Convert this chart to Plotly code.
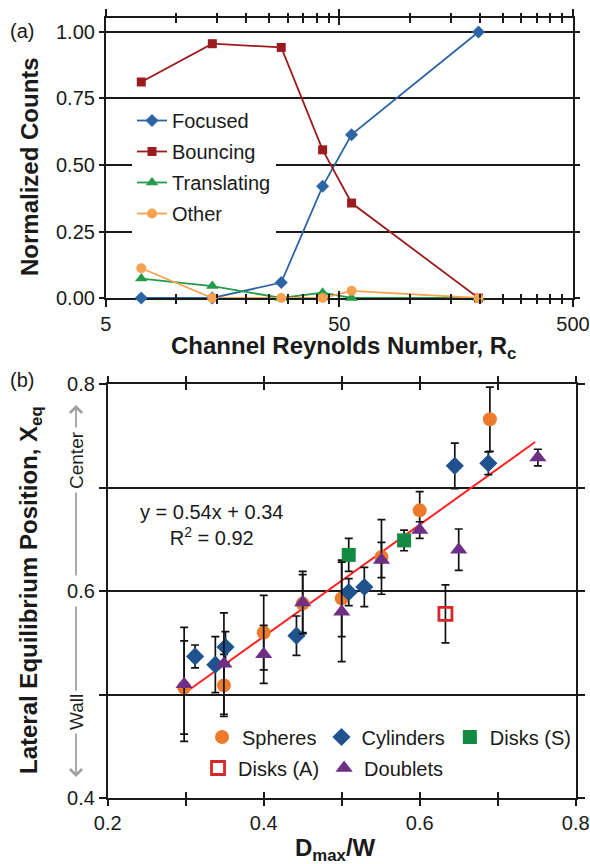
import math
import plotly.graph_objects as go

W, H = 590, 864
FONT = "Liberation Sans, Arial, sans-serif"
INK = "#1a1a1a"

# ---------------- panel (a) data ----------------
rc = [7.1, 14.3, 28.2, 42.4, 56.4, 197]
focused = [0.0, 0.0, 0.058, 0.42, 0.614, 1.0]
bouncing = [0.812, 0.956, 0.942, 0.557, 0.357, 0.0]
translating = [0.073, 0.045, 0.0, 0.02, 0.0, 0.0]
other = [0.112, 0.0, 0.0, 0.0, 0.027, 0.0]
rc_major = [5, 50, 500]
rc_major_labels = ["5", "50", "500"]
rc_minor = [10, 15, 20, 25, 30, 35, 40, 45, 100, 150, 200, 250, 300, 350, 400, 450]
counts_tickvals = [0, 0.25, 0.5, 0.75, 1.0]

# ---------------- panel (b) data ----------------
sph_x = [0.298, 0.349, 0.400, 0.450, 0.500, 0.551, 0.600, 0.690]
sph_y = [0.507, 0.509, 0.560, 0.588, 0.593, 0.633, 0.678, 0.766]
sph_e = [0.045, 0.030, 0.036, 0.028, 0.037, 0.036, 0.018, 0.031]

cyl_x = [0.312, 0.338, 0.351, 0.442, 0.509, 0.529, 0.645, 0.688]
cyl_y = [0.537, 0.529, 0.546, 0.557, 0.599, 0.604, 0.721, 0.7235]
cyl_e = [0.011, 0.027, 0.015, 0.019, 0.013, 0.019, 0.022, 0.011]

dks_x = [0.509, 0.580]
dks_y = [0.635, 0.649]
dks_e = [0.016, 0.010]

dka_x = [0.633]
dka_y = [0.578]
dka_e = [0.028]

dbl_x = [0.298, 0.349, 0.400, 0.450, 0.500, 0.551, 0.600, 0.650, 0.7515]
dbl_y = [0.510, 0.530, 0.539, 0.589, 0.580, 0.630, 0.659, 0.640, 0.729]
dbl_e = [0.055, 0.049, 0.028, 0.030, 0.048, 0.017, 0.008, 0.020, 0.008]

fit_x = [0.305, 0.748]
fit_y = [0.505, 0.744]

d_tickvals = [0.2, 0.3, 0.4, 0.5, 0.6, 0.7, 0.8]
d_ticklabels = ["0.2", "", "0.4", "", "0.6", "", "0.8"]
x_tickvals = [0.4, 0.5, 0.6, 0.7, 0.8]
x_ticklabels = ["0.4", "", "0.6", "", "0.8"]


def px(v):
    return v / W


def py(v):
    return 1 - v / H


fig = go.Figure()

# ---- panel (a) traces ----
series_a = [
    ("Focused", focused, "#2D64A5", "diamond", 10),
    ("Bouncing", bouncing, "#9B1C1F", "square", 9),
    ("Translating", translating, "#259A48", "triangle-up", 11),
    ("Other", other, "#F7A250", "circle", 10),
]
for name, vals, col, sym, sz in series_a:
    fig.add_trace(go.Scatter(
        x=rc, y=vals, name=name, mode="lines+markers",
        line=dict(color=col, width=1.8),
        marker=dict(symbol=sym, size=sz, color=col),
        xaxis="x", yaxis="y", cliponaxis=False,
        legend="legend", legendgroup=name,
    ))
# overlay axes carrying the crossing (inside / outside, minor / major) tick marks
for ax in ("x3", "x5", "x6"):
    fig.add_trace(go.Scatter(x=[], y=[], xaxis=ax, yaxis="y", showlegend=False, hoverinfo="skip"))

# ---- panel (b) traces ----
fig.add_trace(go.Scatter(
    x=fit_x, y=fit_y, mode="lines", line=dict(color="#FF2222", width=2),
    xaxis="x2", yaxis="y2", showlegend=False, hoverinfo="skip",
))
err_style = dict(type="data", color="#111111", thickness=1.7, width=4)
series_b = [
    ("Spheres", sph_x, sph_y, sph_e, dict(symbol="circle", size=14, color="#EE7B2C"), "legend2"),
    ("Cylinders", cyl_x, cyl_y, cyl_e, dict(symbol="diamond", size=14, color="#20528E"), "legend2"),
    ("Disks (S)", dks_x, dks_y, dks_e, dict(symbol="square", size=14, color="#128A40"), "legend2"),
    ("Disks (A)", dka_x, dka_y, dka_e,
     dict(symbol="square-open", size=13, color="#D8262B", line=dict(width=2.8, color="#D8262B")), "legend3"),
    ("Doublets", dbl_x, dbl_y, dbl_e, dict(symbol="triangle-up", size=15, color="#6E2F86"), "legend3"),
]
for name, xs, ys, es, mk, lg in series_b:
    fig.add_trace(go.Scatter(
        x=xs, y=ys, name=name, mode="markers", marker=mk,
        error_y=dict(array=es, **err_style),
        xaxis="x2", yaxis="y2", cliponaxis=False, legend=lg,
    ))
fig.add_trace(go.Scatter(x=[], y=[], xaxis="x4", yaxis="y2", showlegend=False, hoverinfo="skip"))

tickfont = dict(family=FONT, size=20, color=INK)
line_common = dict(showline=True, linecolor=INK, linewidth=1.6, tickcolor=INK, tickwidth=1.6,
                   zeroline=False, tickfont=tickfont, layer="below traces", automargin=False)
overlay_common = dict(tickwidth=1.6, tickcolor=INK, mirror="allticks", showline=False,
                      showticklabels=False, showgrid=False, zeroline=False, automargin=False)

dom_ax = [px(105.7), px(573)]
dom_ay = [py(298), py(18)]
dom_bx = [px(107.7), px(575.7)]
dom_by = [py(798.3), py(384)]
rng_a = [math.log10(5), math.log10(500)]

fig.update_layout(
    template="none",
    width=W, height=H,
    margin=dict(l=0, r=0, t=0, b=0, pad=0, autoexpand=False),
    paper_bgcolor="white", plot_bgcolor="white",
    font=dict(family=FONT, size=20, color=INK),
    # panel (a) x axis: major ticks + labels (outside)
    xaxis=dict(domain=dom_ax, anchor="y", type="log", range=rng_a,
               tickmode="array", tickvals=rc_major, ticktext=rc_major_labels,
               ticks="outside", ticklen=7, mirror="allticks", showgrid=False, **line_common),
    xaxis3=dict(overlaying="x", anchor="y", type="log", range=rng_a,
                tickmode="array", tickvals=rc_major, ticks="inside", ticklen=7, **overlay_common),
    xaxis5=dict(overlaying="x", anchor="y", type="log", range=rng_a,
                tickmode="array", tickvals=rc_minor, ticks="outside", ticklen=4.5, **overlay_common),
    xaxis6=dict(overlaying="x", anchor="y", type="log", range=rng_a,
                tickmode="array", tickvals=rc_minor, ticks="inside", ticklen=4.5, **overlay_common),
    yaxis=dict(domain=dom_ay, anchor="x", range=[0, 1.0526],
               tickmode="array", tickvals=counts_tickvals, tickformat=".2f",
               ticks="outside", ticklen=5, mirror="ticks",
               showgrid=True, gridcolor=INK, gridwidth=1.5, **line_common),
    xaxis2=dict(domain=dom_bx, anchor="y2", range=[0.2, 0.8],
                tickmode="array", tickvals=d_tickvals, ticktext=d_ticklabels,
                ticks="outside", ticklen=6, mirror="allticks", showgrid=False, **line_common),
    xaxis4=dict(overlaying="x2", anchor="y2", range=[0.2, 0.8],
                tickmode="array", tickvals=d_tickvals, ticks="inside", ticklen=6, **overlay_common),
    yaxis2=dict(domain=dom_by, anchor="x2", range=[0.4, 0.8],
                tickmode="array", tickvals=x_tickvals, ticktext=x_ticklabels,
                ticks="outside", ticklen=7, mirror="ticks",
                showgrid=True, gridcolor=INK, gridwidth=1.5, **line_common),
    legend=dict(x=px(132), y=py(101), xanchor="left", yanchor="top",
                bgcolor="white", font=dict(family=FONT, size=20, color=INK),
                tracegroupgap=2, itemsizing="trace"),
    legend2=dict(orientation="h", x=px(202), y=py(737), xanchor="left", yanchor="middle",
                 bgcolor="rgba(0,0,0,0)", font=dict(family=FONT, size=20, color=INK)),
    legend3=dict(orientation="h", x=px(198), y=py(768), xanchor="left", yanchor="middle",
                 bgcolor="rgba(0,0,0,0)", font=dict(family=FONT, size=20, color=INK)),
    showlegend=True,
)

bold = dict(family=FONT, size=24, color=INK, weight="bold")
ann = []
ann.append(dict(text="(a)", x=px(8), y=py(31), xanchor="left", yanchor="middle",
                font=dict(family=FONT, size=20, color=INK)))
ann.append(dict(text="(b)", x=px(8), y=py(380), xanchor="left", yanchor="middle",
                font=dict(family=FONT, size=20, color=INK)))
ann.append(dict(text="Channel Reynolds Number, R<sub>c</sub>", x=px(343), y=py(347),
                xanchor="center", yanchor="middle", font=bold))
ann.append(dict(text="Normalized Counts", x=px(30), y=py(167), textangle=-90,
                xanchor="center", yanchor="middle", font=bold))
ann.append(dict(text="D<sub>max</sub>/W", x=px(335), y=py(849),
                xanchor="center", yanchor="middle", font=bold))
ann.append(dict(text="Lateral Equilibrium Position, X<sub>eq</sub>", x=px(30), y=py(590),
                textangle=-90, xanchor="center", yanchor="middle", font=bold))
ann.append(dict(text="y = 0.54x + 0.34<br>R<sup>2</sup> = 0.92", x=px(211), y=py(525),
                xanchor="center", yanchor="middle", align="center",
                font=dict(family=FONT, size=20, color=INK)))
# Center / Wall arrows
ann.append(dict(text="", x=px(76), y=py(405), ax=0, ay=172, axref="pixel", ayref="pixel",
                showarrow=True, arrowhead=4, arrowsize=1.3, arrowwidth=1.8, arrowcolor="#A0A0A0"))
ann.append(dict(text="", x=px(76), y=py(777), ax=0, ay=-172, axref="pixel", ayref="pixel",
                showarrow=True, arrowhead=4, arrowsize=1.3, arrowwidth=1.8, arrowcolor="#A0A0A0"))
ann.append(dict(text="Center", x=px(76), y=py(460), textangle=-90, bgcolor="white", borderpad=3,
                xanchor="center", yanchor="middle", font=dict(family=FONT, size=19, color="#1f1f1f")))
ann.append(dict(text="Wall", x=px(76), y=py(712), textangle=-90, bgcolor="white", borderpad=3,
                xanchor="center", yanchor="middle", font=dict(family=FONT, size=19, color="#1f1f1f")))
for a in ann:
    a.setdefault("xref", "paper")
    a.setdefault("yref", "paper")
    a.setdefault("showarrow", False)
fig.update_layout(annotations=ann)

# remove the page's default body margin so the figure sits at the window origin
fig.write_html(
    "out.html",
    config={"displayModeBar": False},
    post_script="document.body.style.margin='0';document.body.style.overflow='hidden';",
)
